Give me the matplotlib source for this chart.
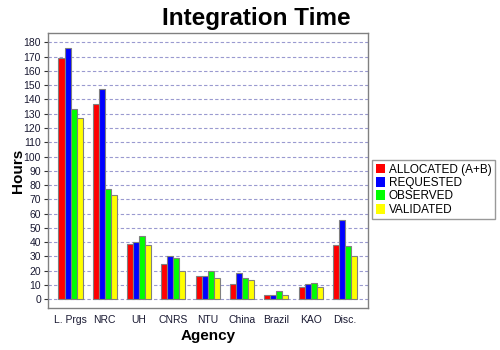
import matplotlib
matplotlib.use("Agg")
import matplotlib.pyplot as plt
import numpy as np
from matplotlib.patches import Patch

plt.rcParams['font.family'] = ['Liberation Sans', 'DejaVu Sans']

agencies = ["L. Prgs", "NRC", "UH", "CNRS", "NTU", "China", "Brazil", "KAO", "Disc."]
allocated = [169, 137, 39, 25, 16, 10.5, 2.8, 8.4, 37.8]
requested = [176, 147, 40, 30, 16, 18.2, 2.8, 10.5, 55.3]
observed = [133, 77, 44, 29, 19.6, 14.7, 5.6, 11.2, 37.1]
validated = [127, 73, 38, 20, 14.7, 13.3, 2.8, 8.4, 30.1]
series_names = ["ALLOCATED (A+B)", "REQUESTED", "OBSERVED", "VALIDATED"]
series_colors = ["#ff0000", "#0000ff", "#00ff00", "#ffff00"]
yticks = list(range(0, 181, 10))

fig = plt.figure(figsize=(5, 3.5), dpi=100)
ax = fig.add_axes([48/500, 1 - 307.7/350, 320/500, (307.7 - 33)/350])

x = np.arange(len(agencies))
w = 0.175
allser = [allocated, requested, observed, validated]
for i, (vals, col) in enumerate(zip(allser, series_colors)):
    ax.bar(x + (i - 1.5) * w, vals, width=w, color=col, edgecolor="#808080",
           linewidth=0.8, zorder=3)

ax.set_xlim(-0.656, 8.67)
ax.set_ylim(-5.9, 186.5)
ax.set_yticks(yticks)
ax.set_yticklabels([str(t) for t in yticks], fontsize=7.5, color="#1a1a33")
ax.set_xticks(x)
ax.set_xticklabels(agencies, fontsize=7.5, color="#1a1a33")
ax.tick_params(axis='x', length=0, pad=5)
ax.tick_params(axis='y', length=3, width=0.8, color="#333333", pad=2)
ax.grid(axis='y', color="#9a9ad0", linestyle=(0, (3, 2)), linewidth=0.8, zorder=0)
for s in ax.spines.values():
    s.set_color("#808080")
    s.set_linewidth(1.0)

fig.text(256/500, 1 - 18/350, "Integration Time", ha='center', va='center',
         fontsize=17.5, fontweight='bold')
fig.text(18/500, 1 - 171/350, "Hours", ha='center', va='center', rotation=90,
         fontsize=11, fontweight='bold')
fig.text(208/500, 1 - 336/350, "Agency", ha='center', va='center',
         fontsize=11, fontweight='bold')

handles = [Patch(facecolor=c, edgecolor='none') for c in series_colors]
leg = fig.legend(handles, series_names, loc='upper left',
                 bbox_to_anchor=(372/500, 1 - 160/350), fontsize=8.5,
                 frameon=True, fancybox=False, handlelength=0.8, handleheight=0.9,
                 handletextpad=0.3, borderpad=0.3, labelspacing=0.12,
                 borderaxespad=0)
leg.get_frame().set_edgecolor("#808080")
leg.get_frame().set_linewidth(1.0)

fig.savefig("out.png", dpi=100)
